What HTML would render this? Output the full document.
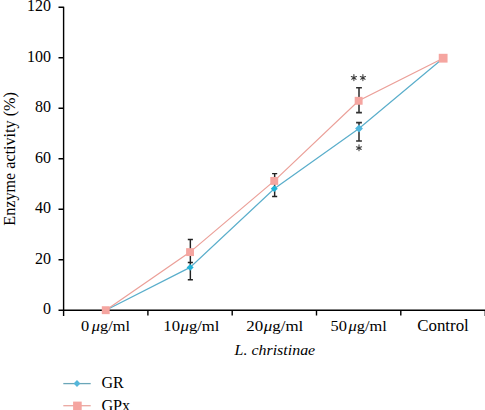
<!DOCTYPE html>
<html><head><meta charset="utf-8">
<style>
html,body{margin:0;padding:0;background:#fff;}
body{width:485px;height:410px;overflow:hidden;}
svg{display:block;font-family:"Liberation Serif",serif;}
</style></head>
<body>
<svg width="485" height="410" viewBox="0 0 485 410" xmlns="http://www.w3.org/2000/svg">
<g fill="#000" font-size="16">
<text x="51.1" y="314.2" text-anchor="end">0</text>
<text x="51.1" y="263.7" text-anchor="end">20</text>
<text x="51.1" y="213.2" text-anchor="end">40</text>
<text x="51.1" y="162.7" text-anchor="end">60</text>
<text x="51.1" y="112.2" text-anchor="end">80</text>
<text x="51.1" y="61.7" text-anchor="end">100</text>
<text x="51.1" y="11.2" text-anchor="end">120</text>
</g>
<g fill="#000" font-size="16">
<text x="81" y="330.6" font-size="15.2" textLength="49" lengthAdjust="spacingAndGlyphs">0<tspan dx="2.5" font-style="italic">μ</tspan>g/ml</text>
<text x="163.3" y="330.6" font-size="15.2" textLength="56.2" lengthAdjust="spacingAndGlyphs">10<tspan dx="0.5" font-style="italic">μ</tspan>g/ml</text>
<text x="246.3" y="330.6" font-size="15.2" textLength="57" lengthAdjust="spacingAndGlyphs">20<tspan dx="0.5" font-style="italic">μ</tspan>g/ml</text>
<text x="330.5" y="330.6" font-size="15.2" textLength="56.3" lengthAdjust="spacingAndGlyphs">50<tspan dx="1.5" font-style="italic">μ</tspan>g/ml</text>
<text x="417.2" y="330.9" font-size="16.3" textLength="51.6" lengthAdjust="spacingAndGlyphs">Control</text>
<text x="234.6" y="355" font-size="14.6" font-style="italic" textLength="80.6" lengthAdjust="spacingAndGlyphs">L. christinae</text>
<text transform="translate(14.8,225.7) rotate(-90)" font-size="16" textLength="133.6" lengthAdjust="spacingAndGlyphs">Enzyme activity (%)</text>
<text x="101.4" y="388">GR</text>
<text x="101.4" y="410.5" textLength="28.8" lengthAdjust="spacingAndGlyphs">GPx</text>
</g>
<g stroke="#000" stroke-width="1.4" fill="none">
<path d="M63.6 6.7V316"/>
<path d="M58.5 7.3H63.6M58.5 57.8H63.6M58.5 108.3H63.6M58.5 158.8H63.6M58.5 209.2H63.6M58.5 259.7H63.6M58.5 310.2H485"/>
<path d="M147.9 310.2V315.6M232.2 310.2V315.6M316.5 310.2V315.6M400.8 310.2V315.6M485.3 310.2V316"/>
</g>
<!-- lines -->
<polyline fill="none" stroke="#5aaecb" stroke-width="1.2" points="105.75,310.2 190.1,267.4 274.25,188.7 359,128.5 443.1,58.2"/>
<polyline fill="none" stroke="#eb9f98" stroke-width="1.2" points="105.75,310.2 190.05,252.1 274.25,180.9 358.65,100.8 443.1,58.2"/>
<!-- error bars -->
<g stroke="#222" stroke-width="1.45" fill="none">
<path d="M190.35 239.5V279.7M187.8 239.5H192.9M187.8 262.5H192.9M187.8 279.7H192.9"/>
<path d="M274.65 173.6V196.4M272.1 173.6H277.2M272.1 196.4H277.2"/>
</g>
<g stroke="#303030" stroke-width="1.55" fill="none">
<path d="M359 87.8V112.6M356.1 87.8H361.9M356.1 112.6H361.9"/>
<path d="M359 122.6V140.9M356.1 122.6H361.9M356.1 140.9H361.9"/>
</g>
<!-- markers -->
<g fill="#f5a5a0">
<rect x="101.80" y="306.25" width="7.9" height="7.9"/>
<rect x="186.10" y="248.15" width="7.9" height="7.9"/>
<rect x="270.30" y="176.95" width="7.9" height="7.9"/>
<rect x="354.70" y="96.85" width="7.9" height="7.9"/>
<rect x="438.75" y="53.8" width="8.8" height="8.8"/>
</g>
<g fill="#22b3d8">
<path d="M190.1 264L193.6 267.4L190.1 270.8L186.6 267.4Z"/>
<path d="M274.25 185.3L277.75 188.7L274.25 192.1L270.75 188.7Z"/>
<path fill="#4fb7de" d="M359 124.6L362.9 128.5L359 132.4L355.1 128.5Z"/>
</g>
<!-- asterisks -->
<defs><path id="ast" d="M0 -0.2V-3M0 0L-2.6 -0.9M0 0L2.6 -0.9M0 0L-2.2 1.8M0 0L2.2 1.8M0 0.2V3.1"/></defs>
<g stroke="#3a3a3a" stroke-width="1.05" stroke-linecap="round" fill="none">
<use href="#ast" x="353.9" y="77.5"/>
<use href="#ast" x="362.9" y="77.5"/>
<use href="#ast" x="359" y="147.7"/>
</g>
<!-- legend -->
<path d="M63.3 383.6H90.7" stroke="#6aa6b8" stroke-width="1.3"/>
<path d="M77 380.1L80.4 383.6L77 387.1L73.6 383.6Z" fill="#55b6da"/>
<path d="M63.3 405.7H90.7" stroke="#eaa7a0" stroke-width="1.3"/>
<rect x="73.1" y="401.6" width="8.6" height="8.6" fill="#f5a5a0"/>
</svg>
</body></html>
